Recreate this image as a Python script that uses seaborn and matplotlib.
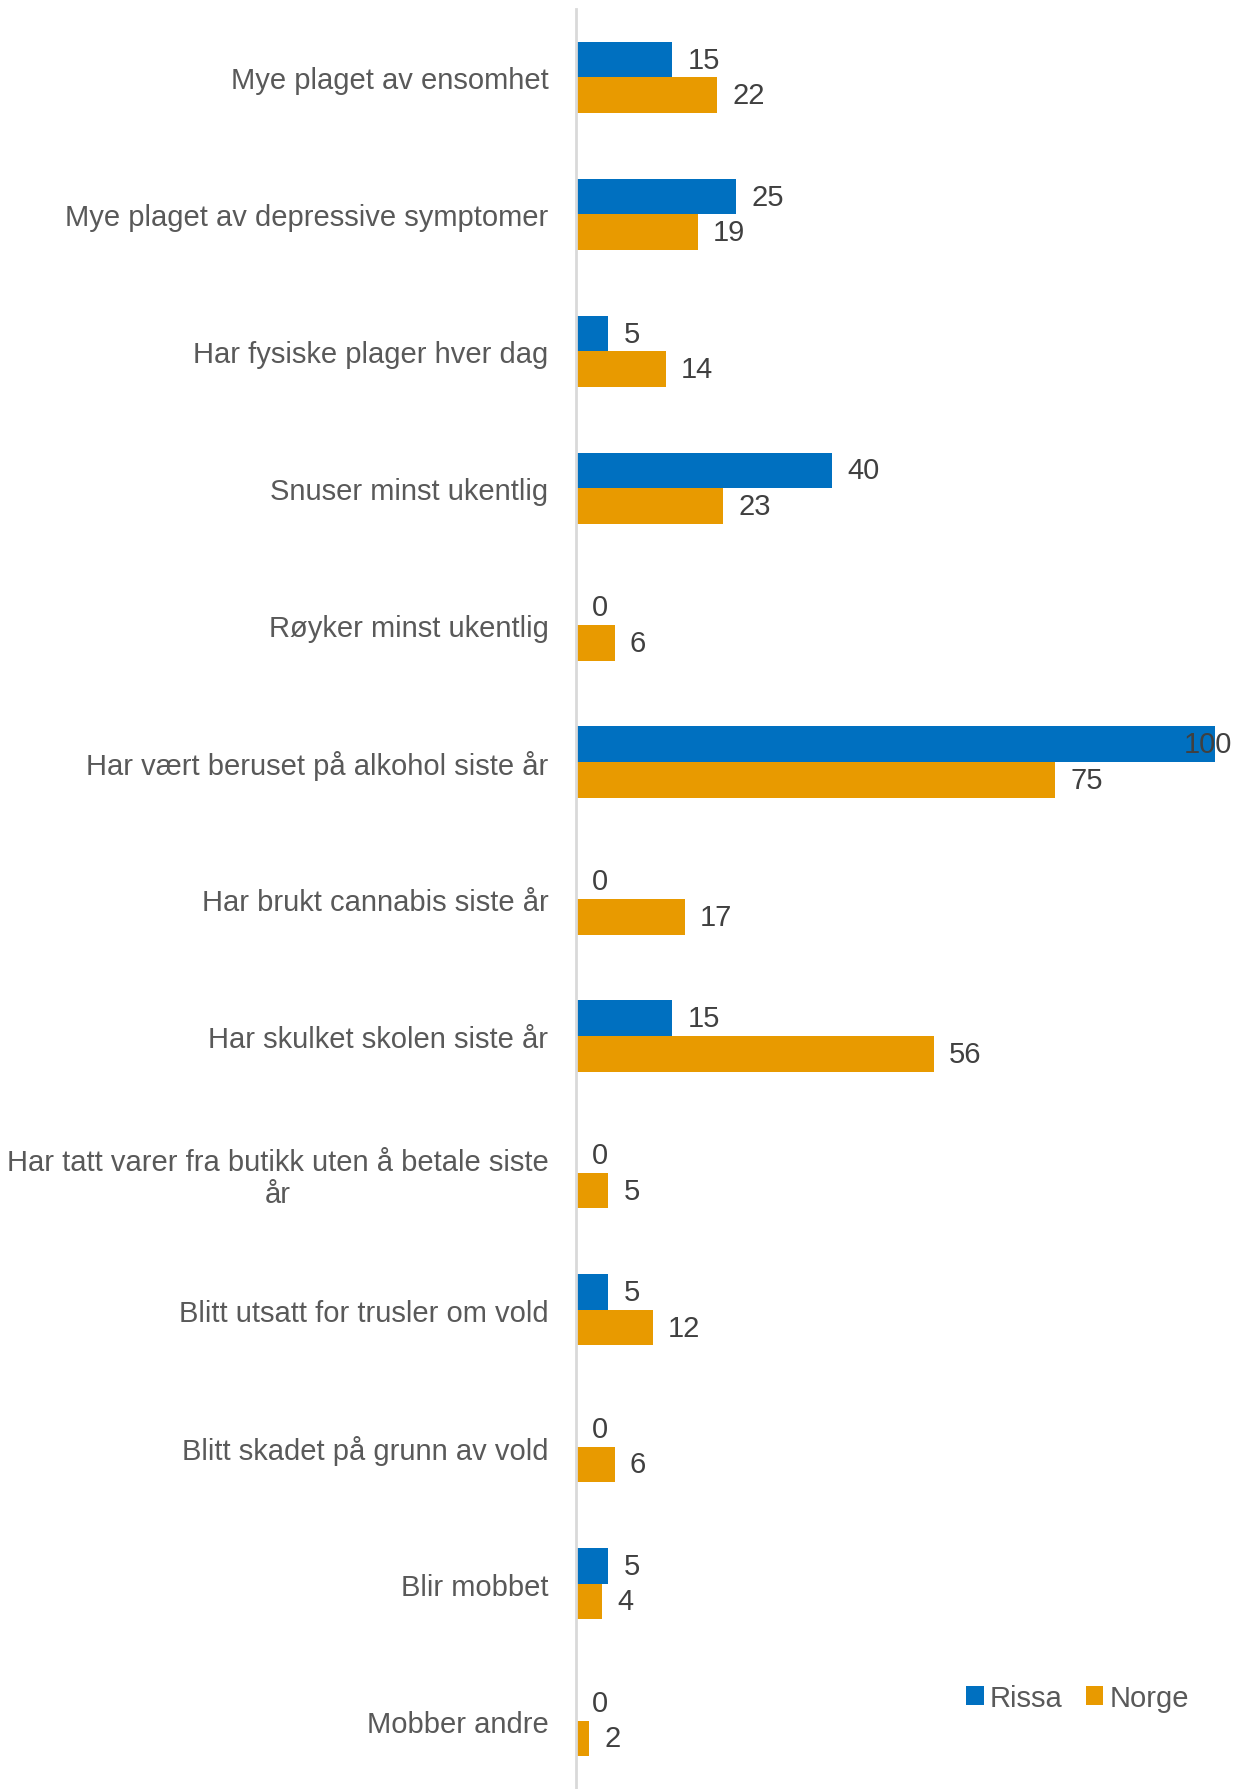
import pandas as pd
import numpy as np
import matplotlib.pyplot as plt
import seaborn as sns

# Data (percent)
categories = [
    "Mye plaget av ensomhet",
    "Mye plaget av depressive symptomer",
    "Har fysiske plager hver dag",
    "Snuser minst ukentlig",
    "Røyker minst ukentlig",
    "Har vært beruset på alkohol siste år",
    "Har brukt cannabis siste år",
    "Har skulket skolen siste år",
    "Har tatt varer fra butikk uten å betale siste\når",
    "Blitt utsatt for trusler om vold",
    "Blitt skadet på grunn av vold",
    "Blir mobbet",
    "Mobber andre",
]
rissa = [15, 25, 5, 40, 0, 100, 0, 15, 0, 5, 0, 5, 0]
norge = [22, 19, 14, 23, 6, 75, 17, 56, 5, 12, 6, 4, 2]
groups = ["Rissa", "Norge"]
colors = ["#0070C0", "#E89A00"]

df = pd.DataFrame({
    "kategori": categories * 2,
    "gruppe": ["Rissa"] * len(categories) + ["Norge"] * len(categories),
    "verdi": rissa + norge,
})

sns.set_style("white")
plt.rcParams['font.family'] = ['Liberation Sans', 'DejaVu Sans']

fig = plt.figure(figsize=(12.5, 17.9), dpi=100)
ax = fig.add_axes([0.461, 0.0, 0.511, 0.9944])

sns.barplot(data=df, y="kategori", x="verdi", hue="gruppe", hue_order=groups,
            palette=colors, saturation=1, orient="h", width=0.52, dodge=True, ax=ax,
            edgecolor="none", linewidth=0, legend=True)

ax.set_xlim(0, 100)
ax.set_xlabel("")
ax.set_ylabel("")
ax.set_xticks([])
for s in ["top", "right", "bottom"]:
    ax.spines[s].set_visible(False)
ax.spines["left"].set_color("#D9D9D9")
ax.spines["left"].set_linewidth(2)
ax.tick_params(axis="y", length=0, pad=20, labelsize=21, labelcolor="#595959")
for lbl in ax.get_yticklabels():
    lbl.set_multialignment("center")

# value labels
for cont in ax.containers:
    for bar in cont:
        v = bar.get_width()
        yc = bar.get_y() + bar.get_height() / 2
        if v >= 100:
            ax.annotate(f"{v:.0f}", (v, yc), xytext=(12, 0), textcoords="offset points",
                        ha="right", va="center", fontsize=21, color="#404040")
        else:
            ax.annotate(f"{v:.0f}", (v, yc), xytext=(11, 0), textcoords="offset points",
                        ha="left", va="center", fontsize=21, color="#404040")

leg = ax.legend(loc="center", bbox_to_anchor=(0.862, 0.051), bbox_transform=fig.transFigure,
                ncol=2, frameon=False, fontsize=21, handlelength=0.6, handleheight=0.6,
                handletextpad=0.2, columnspacing=0.8)
for t in leg.get_texts():
    t.set_color("#595959")

fig.savefig("out.png", dpi=100)
